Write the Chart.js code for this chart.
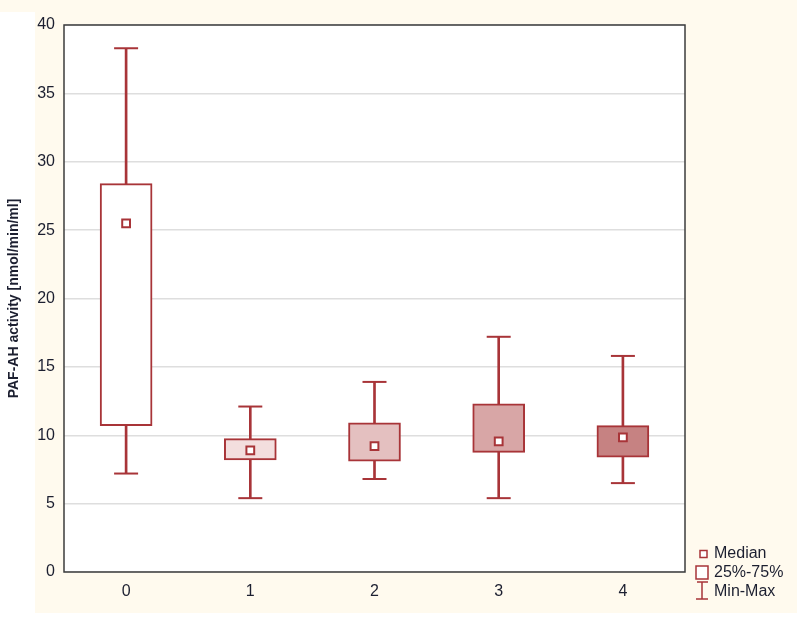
<!DOCTYPE html>
<html>
<head>
<meta charset="utf-8">
<script src="https://cdn.jsdelivr.net/npm/chart.js@4.4.0/dist/chart.umd.min.js"></script>
<style>
  html, body { margin: 0; padding: 0; background: #fff; }
</style>
</head>
<body>
<canvas id="boxChart" width="800" height="617"></canvas>
<script>
// x axis categories
const groups = ['0', '1', '2', '3', '4'];

// box plot values (nmol/min/ml)
const minValues = [7.2, 5.4, 6.8, 5.4, 6.5];
const q1Values = [10.7, 8.2, 8.1, 8.75, 8.4];
const medianValues = [25.5, 8.9, 9.2, 9.55, 9.85];
const q3Values = [28.4, 9.75, 10.9, 12.3, 10.7];
const maxValues = [38.3, 12.1, 13.9, 17.2, 15.8];

// y axis range and legend text
const yMin = 0;
const yMax = 40;
const yStep = 5;
const yTitle = 'PAF-AH activity [nmol/min/ml]';
const legendLabels = ['Median', '25%-75%', 'Min-Max'];

// colours
const red = 'rgb(168, 52, 56)';
const boxFills = ['#ffffff', 'rgb(243, 222, 222)', 'rgb(228, 192, 192)', 'rgb(216, 166, 166)', 'rgb(198, 130, 130)'];
const cream = '#fffaee';
const textColor = '#1c1f30';
const fontFamily = "'Liberation Sans', Arial, sans-serif";

// build the floating ranges for boxes and whiskers
const boxRanges = groups.map((g, i) => [q1Values[i], q3Values[i]]);
const whiskerRanges = groups.map((g, i) => [minValues[i], maxValues[i]]);

// background, plot frame and the legend
const framePlugin = {
    id: 'framePlugin',
    beforeDraw (chart) {
        const ctx = chart.ctx;
        const a = chart.chartArea;
        ctx.save();
        ctx.fillStyle = '#ffffff';
        ctx.fillRect(0, 0, chart.width, chart.height);
        ctx.fillStyle = cream;
        ctx.fillRect(0, 0, 797, 613);
        ctx.fillStyle = '#ffffff';
        ctx.fillRect(0, 12, 35, 601);
        ctx.fillRect(a.left, a.top, a.right - a.left, a.bottom - a.top);
        ctx.restore();
    },
    afterDraw (chart) {
        const ctx = chart.ctx;
        const a = chart.chartArea;
        ctx.save();
        // frame round the plot
        ctx.strokeStyle = '#3c3c3c';
        ctx.lineWidth = 1.5;
        ctx.strokeRect(a.left, a.top, a.right - a.left, a.bottom - a.top);

        // legend
        const x0 = a.right + 11;
        const rows = [554, 573, 592];
        ctx.strokeStyle = red;
        ctx.lineWidth = 1.5;
        ctx.fillStyle = '#ffffff';
        // median marker
        ctx.fillRect(x0 + 4, rows[0] - 3.5, 7, 7);
        ctx.strokeRect(x0 + 4, rows[0] - 3.5, 7, 7);
        // box marker
        ctx.fillRect(x0, rows[1] - 7, 12, 13);
        ctx.strokeRect(x0, rows[1] - 7, 12, 13);
        // whisker marker
        ctx.beginPath();
        ctx.moveTo(x0 + 6, rows[2] - 10);
        ctx.lineTo(x0 + 6, rows[2] + 7);
        ctx.moveTo(x0 + 1, rows[2] - 10);
        ctx.lineTo(x0 + 12, rows[2] - 10);
        ctx.moveTo(x0, rows[2] + 7);
        ctx.lineTo(x0 + 12, rows[2] + 7);
        ctx.stroke();

        ctx.fillStyle = textColor;
        ctx.font = '16px ' + fontFamily;
        ctx.textBaseline = 'middle';
        legendLabels.forEach(function (label, i) {
            ctx.fillText(label, x0 + 18, rows[i]);
        });
        ctx.restore();
    }
};

const config = {
    type: 'bar',
    data: {
        labels: groups,
        datasets: [
            {
                // median squares
                type: 'line',
                label: legendLabels[0],
                data: medianValues,
                showLine: false,
                pointStyle: 'rect',
                pointRadius: 5.5,
                pointHoverRadius: 5.5,
                pointBackgroundColor: '#ffffff',
                pointBorderColor: red,
                pointBorderWidth: 2,
                order: 1
            },
            {
                // 25%-75% boxes
                label: legendLabels[1],
                data: boxRanges,
                backgroundColor: boxFills,
                borderColor: red,
                borderWidth: 2,
                borderSkipped: false,
                barThickness: 52,
                grouped: false,
                order: 2
            },
            {
                // whisker stems
                label: legendLabels[2],
                data: whiskerRanges,
                backgroundColor: red,
                borderWidth: 0,
                barThickness: 2,
                grouped: false,
                order: 3
            },
            {
                // whisker caps at the minimum
                type: 'line',
                label: 'min cap',
                data: minValues,
                showLine: false,
                pointStyle: 'line',
                pointRadius: 12,
                pointHoverRadius: 12,
                pointBorderColor: red,
                pointBorderWidth: 2,
                order: 3
            },
            {
                // whisker caps at the maximum
                type: 'line',
                label: 'max cap',
                data: maxValues,
                showLine: false,
                pointStyle: 'line',
                pointRadius: 12,
                pointHoverRadius: 12,
                pointBorderColor: red,
                pointBorderWidth: 2,
                order: 3
            }
        ]
    },
    options: {
        responsive: false,
        animation: false,
        layout: {
            padding: { top: 25, right: 115, bottom: 0, left: 0 }
        },
        plugins: {
            legend: { display: false },
            tooltip: { enabled: false }
        },
        scales: {
            x: {
                offset: true,
                grid: { display: false, drawTicks: false },
                border: { display: false },
                ticks: {
                    color: textColor,
                    padding: 10,
                    font: { family: fontFamily, size: 16 }
                },
                afterFit (scale) { scale.height = 45; }
            },
            y: {
                min: yMin,
                max: yMax,
                grid: { color: '#dedede', lineWidth: 1.5, drawTicks: false },
                border: { display: false },
                ticks: {
                    stepSize: yStep,
                    color: textColor,
                    padding: 9,
                    font: { family: fontFamily, size: 16 }
                },
                title: {
                    display: true,
                    text: yTitle,
                    color: textColor,
                    padding: { top: 6, bottom: 0 },
                    font: { family: fontFamily, size: 14, weight: 'bold' }
                },
                afterFit (scale) { scale.width = 64; }
            }
        }
    },
    plugins: [framePlugin]
};

const boxChart = new Chart(document.getElementById('boxChart'), config);
</script>
</body>
</html>
